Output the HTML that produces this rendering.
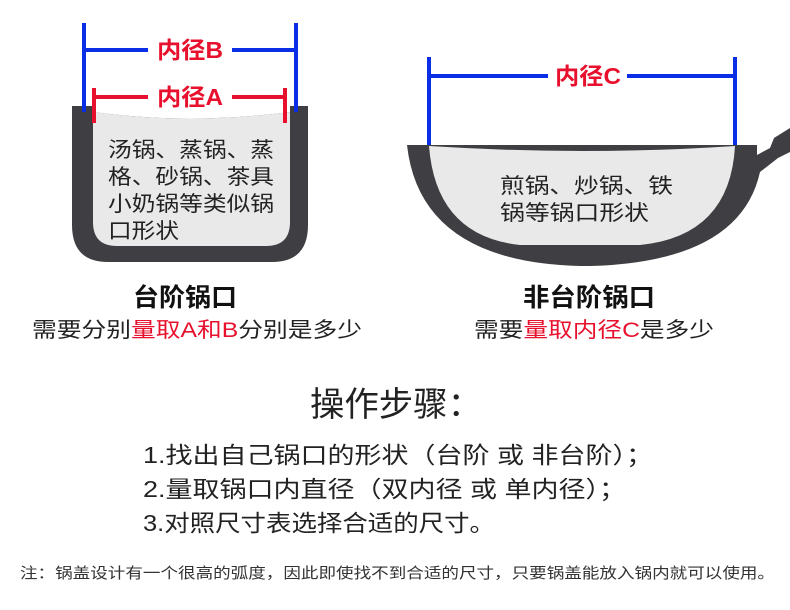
<!DOCTYPE html>
<html><head><meta charset="utf-8"><style>html,body{margin:0;padding:0;background:#fff}svg{display:block}text{font-family:"Liberation Sans","Noto Sans CJK SC",sans-serif}</style></head><body>
<svg width="790" height="610" viewBox="0 0 790 610" xmlns="http://www.w3.org/2000/svg">
<!-- left pot -->
<path d="M72 106 L93 106 L93 112 Q190 125 290 112 L290 106 L308 106 L308 225 Q308 262 272 262 L108 262 Q72 262 72 225 Z" fill="#3f3f43"/>
<path d="M93 112 Q190 125 290 112 L290 222 Q290 246 266 246 L117 246 Q93 246 93 222 Z" fill="#e9e9e9"/>
<g stroke="#0a2ee6" stroke-width="4" fill="none">
<line x1="84" y1="23" x2="84" y2="112"/><line x1="296" y1="23" x2="296" y2="112"/>
<line x1="84" y1="50" x2="148" y2="50"/><line x1="232" y1="50" x2="296" y2="50"/>
<line x1="429" y1="57" x2="429" y2="147"/><line x1="735" y1="57" x2="735" y2="147"/>
<line x1="429" y1="76" x2="548" y2="76"/><line x1="627" y1="76" x2="735" y2="76"/>
</g>
<g stroke="#e8112d" stroke-width="4" fill="none">
<line x1="94" y1="88" x2="94" y2="123"/><line x1="285" y1="88" x2="285" y2="123"/>
<line x1="94" y1="97" x2="148" y2="97"/><line x1="232" y1="97" x2="285" y2="97"/>
</g>
<g font-size="23" fill="#e8112d" text-anchor="middle" font-weight="bold">
<text x="190" y="58" textLength="66" lengthAdjust="spacingAndGlyphs">内径B</text>
<text x="190" y="105" textLength="66" lengthAdjust="spacingAndGlyphs">内径A</text>
<text x="588" y="84" textLength="66" lengthAdjust="spacingAndGlyphs">内径C</text>
</g>
<g font-size="21" fill="#222">
<text x="108" y="157" textLength="166" lengthAdjust="spacingAndGlyphs">汤锅、蒸锅、蒸</text>
<text x="108" y="184" textLength="166" lengthAdjust="spacingAndGlyphs">格、砂锅、茶具</text>
<text x="108" y="211" textLength="166" lengthAdjust="spacingAndGlyphs">小奶锅等类似锅</text>
<text x="108" y="238" textLength="71" lengthAdjust="spacingAndGlyphs">口形状</text>
</g>
<!-- right pot -->
<path d="M407 145 L757 145 L757 155 L770 148 L774 138 L790 128 L790 152 L778 158 L760 172 Q740 262 590 266 L580 266 Q420 262 407 145 Z" fill="#3f3f43"/>
<path d="M429 146 Q585 156 735 146 Q730 236 640 245 L520 245 Q436 236 429 146 Z" fill="#e9e9e9"/>
<g font-size="21" fill="#222">
<text x="500" y="193" textLength="173" lengthAdjust="spacingAndGlyphs">煎锅、炒锅、铁</text>
<text x="500" y="220" textLength="149" lengthAdjust="spacingAndGlyphs">锅等锅口形状</text>
</g>
<text x="185" y="306" font-size="25" font-weight="bold" fill="#111" text-anchor="middle" textLength="104" lengthAdjust="spacingAndGlyphs">台阶锅口</text>
<text x="589" y="306" font-size="25" font-weight="bold" fill="#111" text-anchor="middle" textLength="132" lengthAdjust="spacingAndGlyphs">非台阶锅口</text>
<text x="32" y="337" font-size="21" fill="#222" textLength="330" lengthAdjust="spacingAndGlyphs">需要分别<tspan fill="#e8112d">量取A和B</tspan>分别是多少</text>
<text x="474" y="337" font-size="21" fill="#222" textLength="240" lengthAdjust="spacingAndGlyphs">需要<tspan fill="#e8112d">量取内径C</tspan>是多少</text>
<text x="310" y="416" font-size="34" fill="#222" textLength="172" lengthAdjust="spacingAndGlyphs">操作步骤：</text>
<g font-size="23" fill="#222">
<text x="143" y="463" textLength="510" lengthAdjust="spacingAndGlyphs">1.找出自己锅口的形状（台阶 或 非台阶）；</text>
<text x="143" y="497" textLength="483" lengthAdjust="spacingAndGlyphs">2.量取锅口内直径（双内径 或 单内径）；</text>
<text x="143" y="531" textLength="352" lengthAdjust="spacingAndGlyphs">3.对照尺寸表选择合适的尺寸。</text>
</g>
<text x="20" y="578" font-size="15" fill="#333" textLength="755" lengthAdjust="spacingAndGlyphs">注：锅盖设计有一个很高的弧度，因此即使找不到合适的尺寸，只要锅盖能放入锅内就可以使用。</text>
</svg>
</body></html>
